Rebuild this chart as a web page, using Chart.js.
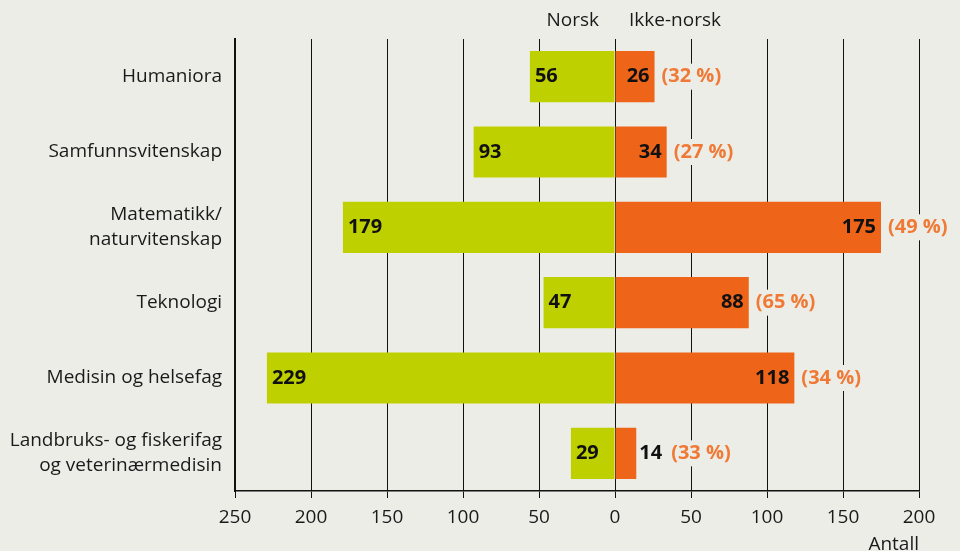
<!DOCTYPE html>
<html>
<head>
<meta charset="utf-8">
<script src="https://cdn.jsdelivr.net/npm/chart.js@4"></script>
<style>
    html, body { margin: 0; padding: 0; background: #edede8; }
    #wrap { width: 960px; height: 551px; position: relative; }
</style>
</head>
<body>
<div id="wrap"><canvas id="chart"></canvas></div>
<script>
const categories = [
    "Humaniora",
    "Samfunnsvitenskap",
    ["Matematikk/", "naturvitenskap"],
    "Teknologi",
    "Medisin og helsefag",
    ["Landbruks- og fiskerifag", "og veterinærmedisin"]
];
const norsk = [56, 93, 179, 47, 229, 29];
const ikkeNorsk = [26, 34, 175, 88, 118, 14];
const andelIkkeNorsk = [32, 27, 49, 65, 34, 33];
const xTicks = [-250, -200, -150, -100, -50, 0, 50, 100, 150, 200];

const BG = "#edede8";
const GREEN = "#bfd000";
const ORANGE = "#ee6419";
const PCT_ORANGE = "#f07a35";
const FONT = "'Open Sans', 'DejaVu Sans', sans-serif";

Chart.defaults.font.family = FONT;
Chart.defaults.font.size = 19;
Chart.defaults.color = "#1a1a1a";

// verdietiketter og overskrifter
const labelPlugin = {
    id: "labels",
    afterDatasetsDraw(chart) {
        const ctx = chart.ctx;
        const metaN = chart.getDatasetMeta(0);
        const metaI = chart.getDatasetMeta(1);
        ctx.save();
        ctx.font = "bold 20px " + FONT;
        ctx.textBaseline = "middle";

        metaN.data.forEach((bar, i) => {
            ctx.fillStyle = "#111";
            ctx.textAlign = "left";
            ctx.fillText(String(norsk[i]), bar.x + 5, bar.y);
        });

        metaI.data.forEach((bar, i) => {
            const txt = String(ikkeNorsk[i]);
            const w = ctx.measureText(txt).width;
            let end;
            ctx.fillStyle = "#111";
            if (bar.x - bar.base > w + 10) {
                ctx.textAlign = "right";
                ctx.fillText(txt, bar.x - 5, bar.y);
                end = bar.x;
            } else {
                ctx.textAlign = "left";
                ctx.fillText(txt, bar.x + 3, bar.y);
                end = bar.x + 3 + w + 2;
            }
            const pct = "(" + andelIkkeNorsk[i] + " %)";
            const pw = ctx.measureText(pct).width;
            const px = end + 7;
            ctx.fillStyle = BG;
            ctx.fillRect(px - 3, bar.y - 13, pw + 6, 26);
            ctx.fillStyle = PCT_ORANGE;
            ctx.textAlign = "left";
            ctx.fillText(pct, px, bar.y);
        });

        // kolonneoverskrifter
        const zero = chart.scales.x.getPixelForValue(0);
        ctx.font = "19px " + FONT;
        ctx.fillStyle = "#1a1a1a";
        ctx.textAlign = "right";
        ctx.fillText("Norsk", zero - 16, 21);
        ctx.textAlign = "left";
        ctx.fillText("Ikke-norsk", zero + 14, 21);
        ctx.restore();
    }
};

new Chart(document.getElementById("chart"), {
    type: "bar",
    data: {
        labels: categories,
        datasets: [
            {
                label: "Norsk",
                data: norsk.map(v => -v),
                backgroundColor: GREEN,
                barPercentage: 0.68,
                categoryPercentage: 1
            },
            {
                label: "Ikke-norsk",
                data: ikkeNorsk,
                backgroundColor: ORANGE,
                barPercentage: 0.68,
                categoryPercentage: 1
            }
        ]
    },
    options: {
        indexAxis: "y",
        responsive: true,
        maintainAspectRatio: false,
        animation: false,
        layout: { padding: { top: 39, right: 41, left: 0, bottom: 0 } },
        plugins: {
            legend: { display: false },
            tooltip: { enabled: false }
        },
        scales: {
            y: {
                stacked: true,
                grid: { display: false },
                border: { display: true, color: "#111", width: 2 },
                ticks: { padding: 5, color: "#1a1a1a", font: { size: 19, lineHeight: 1.3 } },
                afterFit(scale) { scale.width = 235; }
            },
            x: {
                stacked: true,
                min: -250,
                max: 200,
                afterBuildTicks(scale) {
                    scale.ticks = xTicks.map(v => ({ value: v }));
                },
                grid: { color: "#111", lineWidth: 1, tickLength: 7 },
                border: { color: "#111", width: 1.5 },
                ticks: {
                    padding: 8,
                    color: "#1a1a1a",
                    font: { size: 19 },
                    callback: v => Math.abs(v)
                },
                title: {
                    display: true,
                    text: "Antall",
                    align: "end",
                    color: "#1a1a1a",
                    font: { size: 19 },
                    padding: { top: 0, bottom: -5 }
                },
                afterFit(scale) { scale.height = 60; }
            }
        }
    },
    plugins: [labelPlugin]
});
</script>
</body>
</html>
